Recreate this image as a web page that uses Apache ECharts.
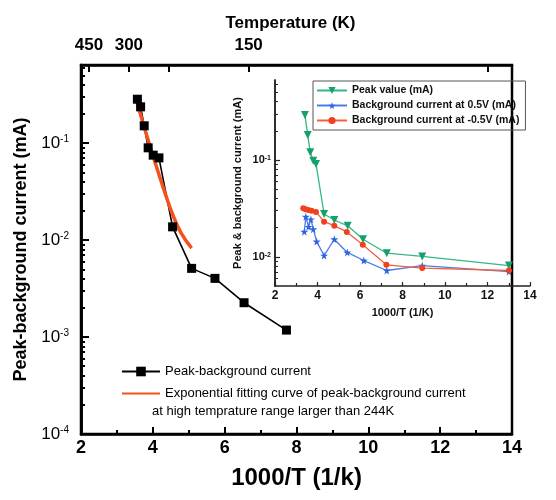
<!DOCTYPE html>
<html>
<head>
<meta charset="utf-8">
<script src="https://cdn.jsdelivr.net/npm/echarts@6/dist/echarts.min.js"></script>
<style>html,body{margin:0;padding:0;background:#fff}#c{width:556px;height:500px}</style>
</head>
<body>
<div id="c"></div>
<script>
// ---- main plot data ----
var mainX = [3.57, 3.66, 3.76, 3.87, 4.01, 4.17, 4.55, 5.08, 5.73, 6.54, 7.72];
var mainY = [0.284, 0.237, 0.151, 0.0895, 0.0752, 0.0705, 0.0137, 0.00511, 0.00403, 0.00226, 0.00118];
var fitX = [3.53, 3.67, 3.81, 3.98, 4.15, 4.34, 4.56, 4.79, 5.08];
var fitY = [0.291, 0.190, 0.127, 0.0789, 0.0502, 0.0305, 0.0181, 0.0118, 0.00828];
var tempTicks = [450, 300, 225, 150, 75];
var tempLabels = [450, 300, 150];
var mainYTicks = [1e-4, 1e-3, 1e-2, 1e-1];
// ---- inset data ----
var peakX = [3.41, 3.54, 3.66, 3.80, 3.93, 4.31, 4.79, 5.42, 6.14, 7.26, 8.93, 13.01];
var peakY = [0.291, 0.181, 0.120, 0.0984, 0.091, 0.0277, 0.0240, 0.0209, 0.0152, 0.0109, 0.0101, 0.00813];
var bgPosX = [3.38, 3.45, 3.58, 3.69, 3.80, 3.96, 4.31, 4.79, 5.40, 6.18, 7.26, 8.93, 13.01];
var bgPosY = [0.0182, 0.0260, 0.0204, 0.0244, 0.0193, 0.0144, 0.0103, 0.0152, 0.0111, 0.00916, 0.00723, 0.00813, 0.00705];
var bgNegX = [3.33, 3.44, 3.57, 3.72, 3.93, 4.31, 4.79, 5.38, 6.13, 7.24, 8.93, 13.01];
var bgNegY = [0.0318, 0.0310, 0.0305, 0.0300, 0.0291, 0.0231, 0.0210, 0.0181, 0.0133, 0.00828, 0.00766, 0.00723];
var insetYTicks = [0.01, 0.1];

var FONT = 'Arial, "Liberation Sans", sans-serif';
function zip(a, b) { return a.map(function (v, i) { return [v, b[i]]; }); }
function minors(lo, hi) {
  var out = [];
  for (var e = -5; e <= 1; e++) {
    for (var m = 2; m <= 9; m++) {
      var v = m * Math.pow(10, e);
      if (v > lo && v < hi) out.push(v);
    }
  }
  return out;
}
function powLabel(v) {
  var e = Math.round(Math.log10(v));
  if (Math.abs(Math.log10(v) - e) > 1e-6) return '';
  return '10{s|' + e + '}';
}
var star = 'path://M50,0 L61,35 L98,35 L68,57 L79,91 L50,70 L21,91 L32,57 L2,35 L39,35 Z';

var mainMin = 1e-4, mainMax = 0.64, inMin = 0.005, inMax = 0.67;

var option = {
  backgroundColor: '#fff',
  animation: false,
  textStyle: { fontFamily: FONT },
  grid: [
    { left: 81, top: 65, right: 44, bottom: 66, show: true, borderColor: '#000', borderWidth: 2.5, backgroundColor: 'transparent' },
    { left: 275, top: 80, right: 26, bottom: 214 }
  ],
  xAxis: [
    { type: 'value', gridIndex: 0, position: 'bottom', min: 2, max: 14, interval: 2,
      axisLine: { lineStyle: { color: '#000', width: 2.5 } },
      axisTick: { inside: true, length: 7, lineStyle: { color: '#000', width: 2 } },
      minorTick: { show: true, splitNumber: 2, length: 4, lineStyle: { color: '#000', width: 2 } },
      splitLine: { show: false },
      axisLabel: { color: '#000', fontSize: 18, fontWeight: 'bold', margin: 5, fontFamily: FONT },
      name: '1000/T (1/k)', nameLocation: 'middle', nameGap: 32,
      nameTextStyle: { color: '#000', fontSize: 24, fontWeight: 'bold', fontFamily: FONT } },
    { type: 'value', gridIndex: 0, position: 'top', min: 2, max: 14,
      axisLine: { lineStyle: { color: '#000', width: 2.5 } },
      axisTick: { inside: true, length: 7, lineStyle: { color: '#000', width: 2 },
        customValues: tempTicks.map(function (t) { return 1000 / t; }) },
      splitLine: { show: false },
      axisLabel: { color: '#000', fontSize: 17, fontWeight: 'bold', margin: 11, fontFamily: FONT,
        customValues: tempLabels.map(function (t) { return 1000 / t; }),
        formatter: function (v) { return String(Math.round(1000 / v)); } },
      name: 'Temperature (K)', nameLocation: 'middle', nameGap: 33,
      nameTextStyle: { color: '#000', fontSize: 17, fontWeight: 'bold', fontFamily: FONT, padding: [0, 12, 0, 0] } },
    { type: 'value', gridIndex: 1, min: 2, max: 14, interval: 2,
      axisLine: { lineStyle: { color: '#222', width: 1.5 } },
      axisTick: { inside: true, length: 4, lineStyle: { color: '#222', width: 1.2 } },
      minorTick: { show: true, splitNumber: 2, length: 3, lineStyle: { color: '#222', width: 1.2 } },
      splitLine: { show: false },
      axisLabel: { color: '#111', fontSize: 12, fontWeight: 'bold', margin: 4, fontFamily: FONT },
      name: '1000/T (1/K)', nameLocation: 'middle', nameGap: 21,
      nameTextStyle: { color: '#111', fontSize: 11, fontWeight: 'bold', fontFamily: FONT } }
  ],
  yAxis: [
    { type: 'log', gridIndex: 0, position: 'left', min: mainMin, max: mainMax, logBase: 10,
      axisLine: { lineStyle: { color: '#000', width: 2.5 } },
      axisTick: { show: true, inside: true, length: 8, lineStyle: { color: '#000', width: 2 }, customValues: mainYTicks },
      splitLine: { show: false },
      axisLabel: { color: '#000', fontSize: 17, margin: 12, fontFamily: FONT, customValues: mainYTicks,
        formatter: powLabel,
        rich: { s: { fontSize: 10, verticalAlign: 'top', fontFamily: FONT, color: '#000' } } },
      name: 'Peak-background current (mA)', nameLocation: 'middle', nameGap: 49,
      nameTextStyle: { color: '#000', fontSize: 18, fontWeight: 'bold', fontFamily: FONT } },
    { type: 'log', gridIndex: 0, position: 'left', offset: 0, min: mainMin, max: mainMax, logBase: 10,
      axisLine: { show: true, lineStyle: { color: '#000', width: 2.5 } },
      axisTick: { show: true, inside: true, length: 4, lineStyle: { color: '#000', width: 2 }, customValues: minors(mainMin, mainMax) },
      axisLabel: { show: false }, splitLine: { show: false } },
    { type: 'log', gridIndex: 1, position: 'left', min: inMin, max: inMax, logBase: 10,
      axisLine: { lineStyle: { color: '#222', width: 1.5 } },
      axisTick: { show: true, inside: true, length: 5, lineStyle: { color: '#222', width: 1.2 }, customValues: insetYTicks },
      splitLine: { show: false },
      axisLabel: { color: '#111', fontSize: 11, fontWeight: 'bold', margin: 4, fontFamily: FONT, customValues: insetYTicks,
        formatter: powLabel,
        rich: { s: { fontSize: 7, fontWeight: 'bold', verticalAlign: 'top', fontFamily: FONT, color: '#111' } } },
      name: 'Peak & background current (mA)', nameLocation: 'middle', nameGap: 32,
      nameTextStyle: { color: '#111', fontSize: 11, fontWeight: 'bold', fontFamily: FONT } },
    { type: 'log', gridIndex: 1, position: 'left', offset: 0, min: inMin, max: inMax, logBase: 10,
      axisLine: { show: true, lineStyle: { color: '#222', width: 1.5 } },
      axisTick: { show: true, inside: true, length: 3, lineStyle: { color: '#222', width: 1 }, customValues: minors(inMin, inMax) },
      axisLabel: { show: false }, splitLine: { show: false } }
  ],
  legend: [
    { orient: 'vertical', left: 116, top: 360, itemWidth: 38, itemHeight: 12, itemGap: 9,
      textStyle: { color: '#000', fontSize: 13, fontFamily: FONT },
      data: ['Peak-background current',
        { name: 'Exponential fitting curve of peak-background current', itemStyle: { opacity: 0 } }] },
    { orient: 'vertical', left: 313, top: 81, itemWidth: 30, itemHeight: 9, itemGap: 4,
      padding: [4, 6, 4, 3], borderColor: '#555', borderWidth: 1,
      textStyle: { color: '#111', fontSize: 10.5, fontWeight: 'bold', fontFamily: FONT },
      data: ['Peak value (mA)', 'Background current at 0.5V (mA)', 'Background current at -0.5V (mA)'] }
  ],
  graphic: [
    { type: 'text', left: 152, top: 405,
      style: { text: 'at high temprature range larger than 244K', fill: '#000', fontSize: 13, fontFamily: FONT } }
  ],
  series: [
    { name: 'Peak-background current', type: 'line', xAxisIndex: 0, yAxisIndex: 0,
      data: zip(mainX, mainY), symbol: 'rect', symbolSize: 9,
      itemStyle: { color: '#000' }, lineStyle: { color: '#000', width: 1.6 } },
    { name: 'Exponential fitting curve of peak-background current', type: 'line', xAxisIndex: 0, yAxisIndex: 0,
      data: zip(fitX, fitY), smooth: true, showSymbol: false, symbol: 'none',
      itemStyle: { color: '#f4511e' }, lineStyle: { color: '#f4511e', width: 3.5 } },
    { name: 'Peak value (mA)', type: 'line', xAxisIndex: 2, yAxisIndex: 2,
      data: zip(peakX, peakY), symbol: 'triangle', symbolRotate: 180, symbolSize: 8,
      itemStyle: { color: '#16a06a' }, lineStyle: { color: '#33b883', width: 1.3 } },
    { name: 'Background current at 0.5V (mA)', type: 'line', xAxisIndex: 2, yAxisIndex: 2,
      data: zip(bgPosX, bgPosY), symbol: star, symbolSize: 8,
      itemStyle: { color: '#2f62e0' }, lineStyle: { color: '#4c7ce6', width: 1.3 } },
    { name: 'Background current at -0.5V (mA)', type: 'line', xAxisIndex: 2, yAxisIndex: 2,
      data: zip(bgNegX, bgNegY), symbol: 'circle', symbolSize: 6,
      itemStyle: { color: '#f2401e' }, lineStyle: { color: '#f2603e', width: 1.3 } }
  ]
};
var chart = echarts.init(document.getElementById('c'), null, { renderer: 'canvas' });
chart.setOption(option);
</script>
</body>
</html>
